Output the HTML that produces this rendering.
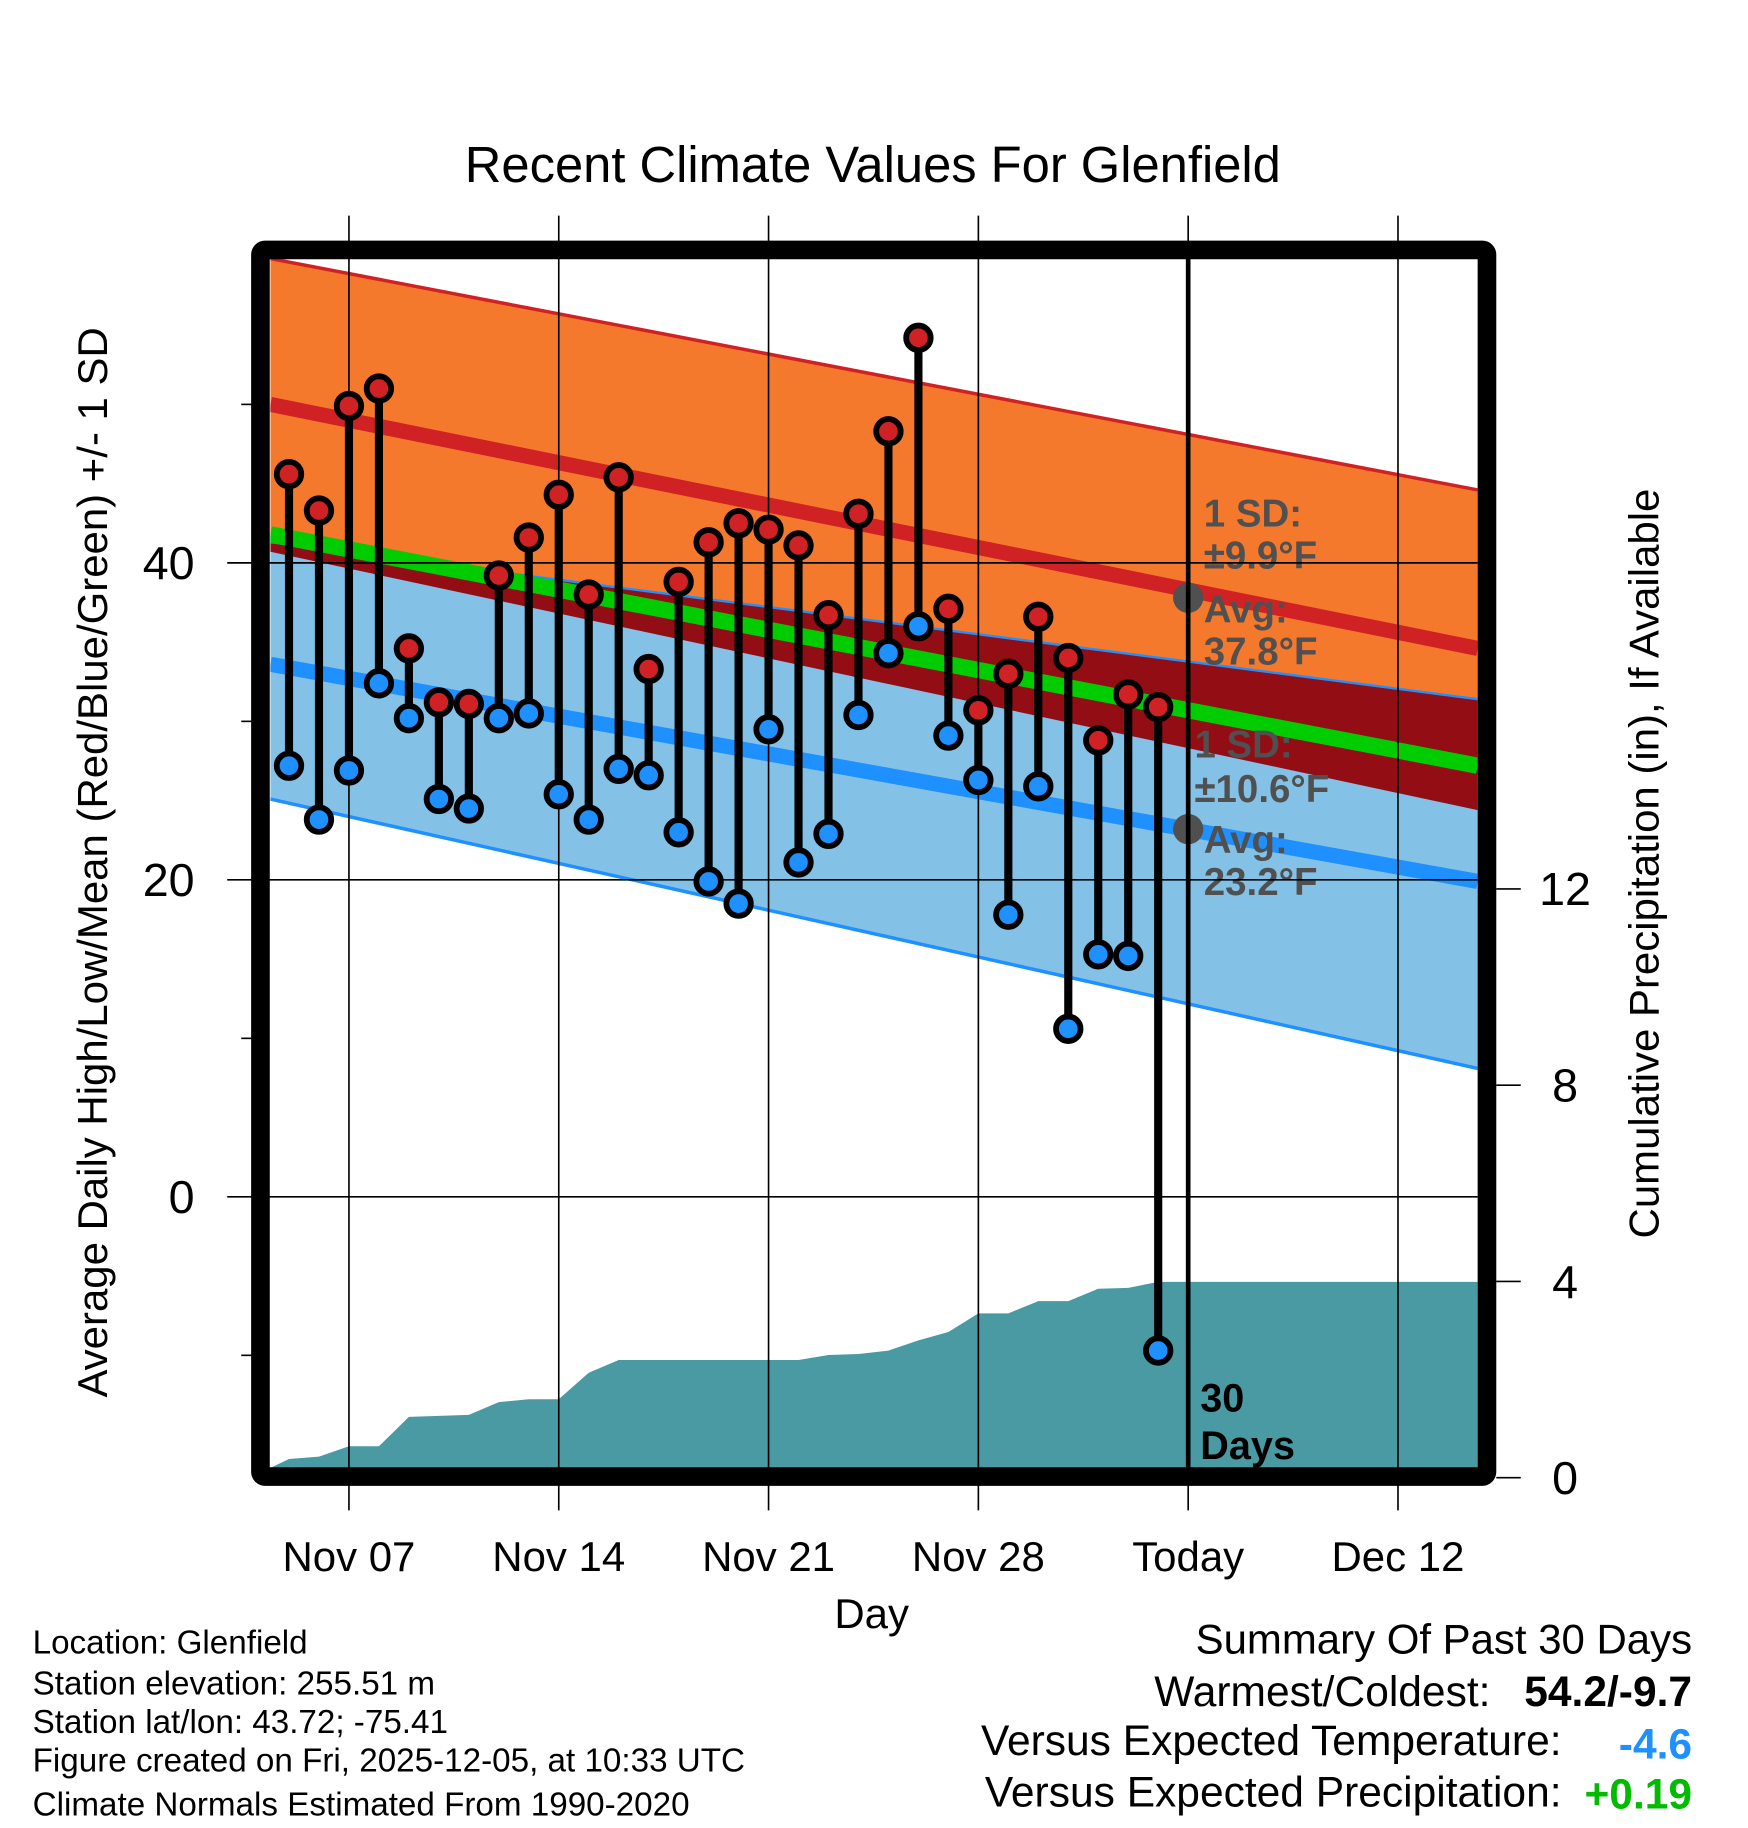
<!DOCTYPE html>
<html><head><meta charset="utf-8"><style>
html,body{margin:0;padding:0;background:#fff;}
svg{display:block;font-family:"Liberation Sans",Arial,sans-serif;}
</style></head><body>
<svg id="chart" width="1748" height="1828" viewBox="0 0 1500 1568.6" preserveAspectRatio="none" xmlns="http://www.w3.org/2000/svg">
<defs><clipPath id="plotClip"><rect x="232" y="222" width="1036" height="1038"/></clipPath></defs>
<g id="plot" clip-path="url(#plotClip)"></g>
<g id="overlay"></g>
</svg>
<script>
// ---- data ----
const dayLabels = ["Nov 07","Nov 14","Nov 21","Nov 28","Today","Dec 12"];
const dayLabelIdx = [2,9,16,23,30,37];
const highs = [45.6,43.3,49.9,51.0,34.6,31.2,31.1,39.2,41.6,44.3,38.0,45.4,33.3,38.8,41.3,42.5,42.1,41.1,36.7,43.1,48.3,54.2,37.1,30.7,33.0,36.6,34.0,28.8,31.7,30.9];
const lows = [27.2,23.8,26.9,32.4,30.2,25.1,24.5,30.2,30.5,25.4,23.8,27.0,26.6,23.0,19.9,18.5,29.5,21.1,22.9,30.4,34.3,36.0,29.1,26.3,17.8,25.9,10.6,15.3,15.2,-9.7];
const precip = [0.38,0.43,0.64,0.64,1.24,1.26,1.28,1.54,1.6,1.6,2.14,2.4,2.4,2.4,2.4,2.4,2.4,2.4,2.5,2.52,2.59,2.8,2.97,3.35,3.35,3.6,3.6,3.85,3.87,3.99];
const normDays = [-0.62, 39.66];
const normHighPlus = [59.2, 44.6];
const normHigh = [50.0, 34.6];
const normHighMinus = [40.7, 24.4];
const normLowPlus = [41.3, 31.4];
const normLow = [33.6, 19.9];
const normLowMinus = [25.1, 8.1];
const normMean = [41.8, 27.2];
const tempTicks = [0,20,40];
const tempMinor = [-10,10,30,50];
const precipTicks = [0,4,8,12];

// ---- axes ----
const xD = d => 248 + d*25.72;
const yT = t => 483 - (t-40)*13.6;
const yP = p => 1268 - p*42.1;
const NS = "http://www.w3.org/2000/svg";
function mk(parent, tag, attrs, text){
  const e = document.createElementNS(NS, tag);
  for (const k in attrs) e.setAttribute(k, attrs[k]);
  if (text !== undefined) e.textContent = text;
  parent.appendChild(e); return e;
}
const plot = document.getElementById('plot');
const ov = document.getElementById('overlay');
const svg = document.getElementById('chart');

function band(upper, lower, fill, name){
  const pts = [[xD(normDays[0]),yT(upper[0])],[xD(normDays[1]),yT(upper[1])],[xD(normDays[1]),yT(lower[1])],[xD(normDays[0]),yT(lower[0])]];
  const p = mk(plot,'polygon',{points:pts.map(q=>q.join(',')).join(' '),fill:fill});
  
  
}
function nline(vals, color, w, name){
  const l = mk(plot,'line',{x1:xD(normDays[0]),y1:yT(vals[0]),x2:xD(normDays[1]),y2:yT(vals[1]),stroke:color,'stroke-width':w});
  
  
}
band(normHighPlus, normHighMinus, '#f5792d', 'high-sd-band');
band(normLowPlus, normLowMinus, '#84c1e6', 'low-sd-band');
band(normLowPlus, normHighMinus, '#920d14', 'overlap-band');
nline(normHighPlus,'#d02224',3,'high-plus-sd-line');
nline(normLowPlus,'#1e90ff',2,'low-plus-sd-line');
nline(normLowMinus,'#1e90ff',3,'low-minus-sd-line');
nline(normHigh,'#d02224',13,'normal-high-line');
nline(normLow,'#1e90ff',13,'normal-low-line');
nline(normMean,'#00cc00',14,'normal-mean-line');

// precipitation area
{
  let pts = [[232, yP(0.2)]];
  precip.forEach((v,i)=>pts.push([xD(i), yP(v)]));
  pts.push([1270, yP(precip[precip.length-1])],[1270,1270],[232,1270]);
  const a = mk(plot,'polygon',{points:pts.map(q=>q.join(',')).join(' '),fill:'#4a9aa3'});
  
  
}

// annotation text
const annot = [["1 SD:",440,1033],["±9.9°F",476,1033],["Avg:",522,1033],["37.8°F",558,1033],["1 SD:",638,1025],["±10.6°F",676,1025],["Avg:",720,1033],["23.2°F",756,1033]];
annot.forEach(a=>{
  const t = mk(plot,'text',{x:a[2],y:a[1]+12,'font-size':33,'font-weight':'bold',fill:'#505050'},a[0]);
  
  
});
const aHigh = mk(plot,'circle',{cx:xD(30),cy:yT(37.8),r:13,fill:'#505050'});


const aLow = mk(plot,'circle',{cx:xD(30),cy:yT(23.2),r:13,fill:'#505050'});



// gridlines
dayLabelIdx.forEach(d=>{
  const g = mk(ov,'line',{x1:xD(d),y1:185,x2:xD(d),y2:1296,stroke:'#000','stroke-width':1.4});
  
  
});
tempTicks.forEach(t=>{
  const g = mk(ov,'line',{x1:195,y1:yT(t),x2:1268,y2:yT(t),stroke:'#000','stroke-width':1.4});
  
  
  const l = mk(ov,'text',{x:167,y:yT(t)+14,'font-size':40,'text-anchor':'end'},String(t));
  
  
});
tempMinor.forEach(t=>{
  const g = mk(ov,'line',{x1:207,y1:yT(t),x2:216,y2:yT(t),stroke:'#000','stroke-width':1.4});
  
  
});
precipTicks.forEach(p=>{
  const g = mk(ov,'line',{x1:1284,y1:yP(p),x2:1305,y2:yP(p),stroke:'#000','stroke-width':1.4});
  
  
  const l = mk(ov,'text',{x:1343,y:yP(p)+14,'font-size':40,'text-anchor':'middle'},String(p));
  
  
});
dayLabels.forEach((s,i)=>{
  const l = mk(ov,'text',{x:xD(dayLabelIdx[i]),y:1348,'font-size':36,'text-anchor':'middle'},s);
  
  
});

// today line
const tl = mk(ov,'line',{x1:xD(30),y1:222,x2:xD(30),y2:1262,stroke:'#000','stroke-width':4});



// stems and dots
highs.forEach((h,i)=>{
  const s = mk(ov,'line',{x1:xD(i),y1:yT(h),x2:xD(i),y2:yT(lows[i]),stroke:'#000','stroke-width':7});
  
  
});
function dot(i,v,color,name){
  const o = mk(ov,'circle',{cx:xD(i),cy:yT(v),r:10.5,fill:color,stroke:'#000','stroke-width':5});
  
  
}
highs.forEach((h,i)=>dot(i,h,'#d02224','high-point'));
lows.forEach((l,i)=>dot(i,l,'#1e90ff','low-point'));

// frame
const fr = mk(ov,'rect',{x:223.5,y:214.5,width:1052.5,height:1052.5,fill:'none',stroke:'#000','stroke-width':16,rx:4});


</script>
<script>
// static text
(function(){
  const svg = document.getElementById('chart');
  const NS = "http://www.w3.org/2000/svg";
  const items = [
    ["chart-title","Recent Climate Values For Glenfield",749,156,43.5,"middle","normal","#000",null],
    ["x-axis-title","Day",748,1397,36,"middle","normal","#000",null],
    ["thirty-days-label","30",1030,1211,34,"start","bold","#000",null],
    ["thirty-days-label","Days",1030,1252,34,"start","bold","#000",null],
    ["location-text","Location: Glenfield",28,1419,28.5,"start","normal","#000",null],
    ["elevation-text","Station elevation: 255.51 m",28,1454,28.5,"start","normal","#000",null],
    ["latlon-text","Station lat/lon: 43.72; -75.41",28,1487,28.5,"start","normal","#000",null],
    ["created-text","Figure created on Fri, 2025-12-05, at 10:33 UTC",28,1520,28.5,"start","normal","#000",null],
    ["normals-text","Climate Normals Estimated From 1990-2020",28,1558,28.5,"start","normal","#000",null],
    ["summary-title","Summary Of Past 30 Days",1452,1419,36,"end","normal","#000",null],
    ["warmest-label","Warmest/Coldest:",1279,1464,36.5,"end","normal","#000",null],
    ["warmest-value","54.2/-9.7",1452,1464,36.5,"end","bold","#000",null],
    ["temp-vs-label","Versus Expected Temperature:",1340,1506,36.5,"end","normal","#000",null],
    ["temp-vs-value","-4.6",1452,1509,36.5,"end","bold","#1e90ff",null],
    ["precip-vs-label","Versus Expected Precipitation:",1340,1550,36.5,"end","normal","#000",null],
    ["precip-vs-value","+0.19",1452,1552,36.5,"end","bold","#00bb00",null],
    ["y-axis-title","Average Daily High/Low/Mean (Red/Blue/Green) +/- 1 SD",92,740,36,"middle","normal","#000",-90],
    ["y2-axis-title","Cumulative Precipitation (in), If Available",1423,741,36,"middle","normal","#000",-90]
  ];
  items.forEach(a=>{
    const t = document.createElementNS(NS,'text');
    t.setAttribute('x',a[2]); t.setAttribute('y',a[3]);
    t.setAttribute('font-size',a[4]); t.setAttribute('text-anchor',a[5]);
    t.setAttribute('font-weight',a[6]); t.setAttribute('fill',a[7]);
    if(a[8]!==null) t.setAttribute('transform','rotate('+a[8]+' '+a[2]+' '+a[3]+')');
    t.textContent = a[1];
    
    
    svg.appendChild(t);
  });
})();
</script>
</body></html>
